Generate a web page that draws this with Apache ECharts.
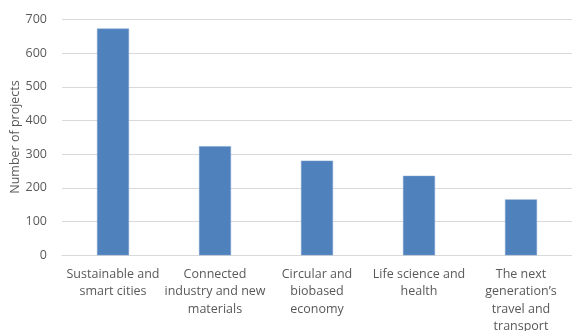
<!DOCTYPE html>
<html>
<head>
<meta charset="utf-8">
<script src="https://cdn.jsdelivr.net/npm/echarts@6/dist/echarts.min.js"></script>
<style>
  html, body { margin: 0; padding: 0; background: #fff; }
  #chart { width: 572px; height: 331px; }
</style>
</head>
<body>
<div id="chart"></div>
<script>
// Project counts per strategic innovation area
const categories = [
  'Sustainable and\nsmart cities',
  'Connected\nindustry and new\nmaterials',
  'Circular and\nbiobased\neconomy',
  'Life science and\nhealth',
  'The next\ngeneration\u2019s\ntravel and\ntransport'
];
const projects = [673, 324, 281, 236, 166];
const yTicks = { min: 0, max: 700, interval: 100 };
const yTitle = 'Number of projects';

const chart = echarts.init(document.getElementById('chart'), null, { renderer: 'canvas' });
const font = '"Open Sans", "Liberation Sans", sans-serif';
chart.setOption({
  animation: false,
  grid: {
    left: 62, right: 0, top: 19.5, bottom: 75.7,
    containLabel: false,
    outerBoundsMode: 'none'
  },
  // vertical axis title, placed beside the tick labels
  graphic: [{
    type: 'text',
    x: 15,
    y: 137,
    rotation: Math.PI / 2,
    style: {
      text: yTitle,
      fill: '#595959',
      font: '12.5px ' + font,
      align: 'center',
      verticalAlign: 'middle'
    }
  }],
  xAxis: {
    type: 'category',
    data: categories,
    axisLine: { lineStyle: { color: '#d9d9d9', width: 1 } },
    axisTick: { show: false },
    axisLabel: {
      interval: 0,
      color: '#595959',
      fontFamily: font,
      fontSize: 12.5,
      lineHeight: 17.5,
      margin: 10
    }
  },
  yAxis: {
    type: 'value',
    min: yTicks.min,
    max: yTicks.max,
    interval: yTicks.interval,
    axisLine: { show: false },
    axisTick: { show: false },
    splitLine: { lineStyle: { color: '#d9d9d9', width: 1 } },
    axisLabel: { color: '#595959', fontFamily: font, fontSize: 12.5, margin: 15 }
  },
  series: [{
    type: 'bar',
    data: projects,
    barWidth: 32,
    itemStyle: { color: '#4f81bd', borderColor: '#7da1cf', borderWidth: 0.5 }
  }]
});
</script>
</body>
</html>
